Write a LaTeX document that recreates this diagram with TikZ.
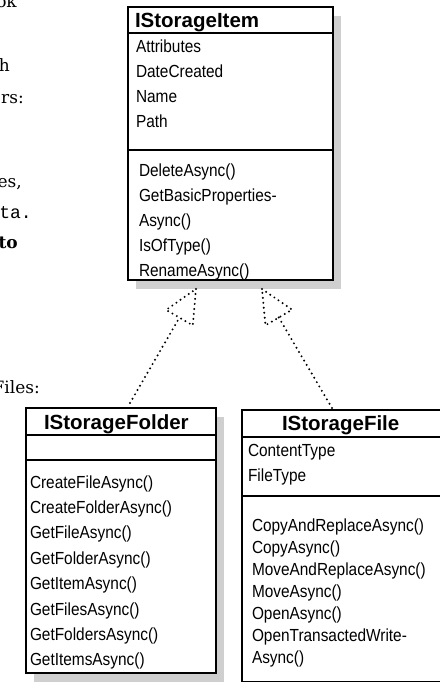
\documentclass[tikz,border=0pt]{standalone}
\usepackage{fontspec}
\setmonofont{Liberation Mono}
\newfontfamily\umlsans[FakeStretch=0.88]{Liberation Sans}
\newfontfamily\umlbold{Liberation Sans}
\newfontfamily\bookserif{DejaVu Serif}
\newcommand\nohyph{\hyphenpenalty=10000\exhyphenpenalty=10000\relax}
\usetikzlibrary{positioning,fit,backgrounds,shadows,calc}

\begin{document}
\begin{tikzpicture}[
    x=1pt, y=-1pt,
    umlbox/.style={draw, line width=1.3pt, fill=white, inner sep=0pt, outer sep=0pt, align=left},
    headpart/.style={umlbox, font=\fontsize{20.5}{24}\umlbold\bfseries},
    umltext/.style={umlbox, font=\fontsize{17.5}{#1}\umlsans\nohyph},
    umlshadow/.style={fill=white, inner sep=0pt, drop shadow={shadow xshift=8pt, shadow yshift=-9pt, opacity=0.38}},
    realize/.style={line width=2.2pt, dash pattern=on 0pt off 5pt, line cap=round},
    textbit/.style={anchor=base east, inner sep=0pt, font=\fontsize{17}{22}\bookserif}
]
\useasboundingbox (0,0) rectangle (439,682);

% body text cut off at the left edge
\node[textbit] (wordok) at (17,8) {ok};
\node[textbit] (wordh) at (10,72) {h};
\node[textbit] (wordrs) at (24,104) {rs:};
\node[textbit] (wordes) at (22,187) {es,};
\node[textbit, font=\fontsize{18}{22}\ttfamily] (wordta) at (32,218) {ta.};
\node[textbit, font=\fontsize{17}{22}\bookserif\bfseries] (wordto) at (18,248) {to};
\node[textbit] (wordfiles) at (40,393) {Files:};

% IStorageItem
\node[headpart, anchor=north west, minimum width=205pt, text width=191pt, text height=20.5pt, text depth=5.5pt] (itemhead) at (128,7) {IStorageItem};
\node[umltext=25, below=0pt of itemhead, minimum width=205pt, text width=189pt, text height=20pt, text depth=97pt] (itemattr) {Attributes\\DateCreated\\Name\\Path};
\node[umltext=25, below=0pt of itemattr, minimum width=205pt, text width=183pt, text height=26pt, text depth=104pt] (itemmeth) {DeleteAsync()\\GetBasicProperties-\\Async()\\IsOfType()\\RenameAsync()};

% IStorageFolder
\node[headpart, anchor=north west, minimum width=190pt, text width=154pt, text height=21.5pt, text depth=5.5pt] (folderhead) at (26,408) {IStorageFolder};
\node[umltext=25, below=0pt of folderhead, minimum width=190pt, text width=182pt, text height=25pt, text depth=0pt] (folderattr) {};
\node[umltext=25.4, below=0pt of folderattr, minimum width=190pt, text width=182pt, text height=28pt, text depth=185pt] (foldermeth) {CreateFileAsync()\\CreateFolderAsync()\\GetFileAsync()\\GetFolderAsync()\\GetItemAsync()\\GetFilesAsync()\\GetFoldersAsync()\\GetItemsAsync()};

% IStorageFile
\node[headpart, anchor=north west, minimum width=199pt, text width=119pt, text height=20.5pt, text depth=6.5pt] (filehead) at (242,410) {IStorageFile};
\node[umltext=25, below=0pt of filehead, minimum width=199pt, text width=187pt, text height=19pt, text depth=40pt] (fileattr) {ContentType\\FileType};
\node[umltext=22, below=0pt of fileattr, minimum width=199pt, text width=179pt, text height=35pt, text depth=150.5pt] (filemeth) {CopyAndReplaceAsync()\\CopyAsync()\\MoveAndReplaceAsync()\\MoveAsync()\\OpenAsync()\\OpenTransactedWrite-\\Async()};

\begin{scope}[on background layer]
  \node[umlshadow, fit=(itemhead)(itemmeth)] (itemshadow) {};
  \node[umlshadow, fit=(folderhead)(foldermeth)] (foldershadow) {};
  \node[umlshadow, fit=(filehead)(filemeth)] (fileshadow) {};
\end{scope}

% realization arrows
\coordinate (foldertip) at ([xshift=-34.5pt, yshift=-9pt]itemmeth.south);
\coordinate (filetip) at ([xshift=31.5pt, yshift=-9pt]itemmeth.south);
\coordinate (folderfoot) at ([xshift=9pt, yshift=5pt]folderhead.north);
\coordinate (filefoot) at ([xshift=-9.5pt, yshift=2pt]filehead.north);

\draw[realize] (folderfoot) -- ($(foldertip)!33pt!(folderfoot)$);
\draw[realize] (foldertip) -- ($(foldertip)!36.5pt!25:(folderfoot)$) -- ($(foldertip)!36.5pt!-25:(folderfoot)$) -- cycle;
\draw[realize] (filefoot) -- ($(filetip)!33pt!(filefoot)$);
\draw[realize] (filetip) -- ($(filetip)!36.5pt!25:(filefoot)$) -- ($(filetip)!36.5pt!-25:(filefoot)$) -- cycle;
\end{tikzpicture}
\end{document}
